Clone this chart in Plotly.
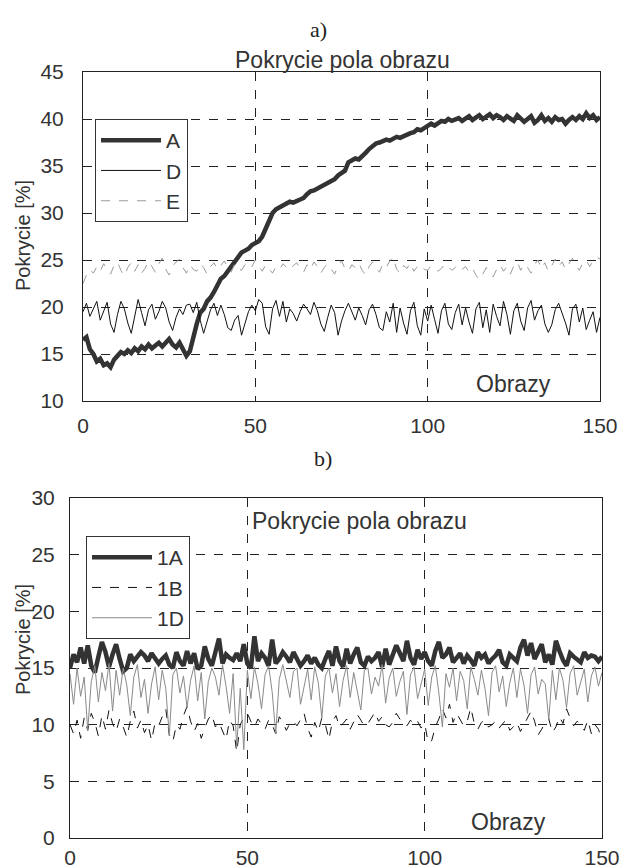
import plotly.graph_objects as go

# ---- data ----
x_frames = list(range(0, 151))

cov_A = [
    16.5, 16.8, 15.5, 15.0, 14.2, 14.5, 13.8, 14.0, 13.6, 14.4,
    14.8, 15.2, 15.0, 15.4, 15.1, 15.6, 15.3, 15.8, 15.5, 16.0,
    15.6, 15.9, 16.2, 15.8, 16.3, 16.6, 16.0, 15.7, 16.2, 15.4,
    14.8, 15.3, 17.0, 18.2, 19.4, 19.8, 20.6, 21.0, 21.6, 22.4,
    23.0, 23.3, 23.8, 24.5, 25.0, 25.3, 25.8, 26.0, 26.2, 26.6,
    26.8, 27.0, 27.5, 28.4, 29.2, 30.0, 30.4, 30.6, 30.9, 31.0,
    31.2, 31.1, 31.3, 31.4, 31.6, 32.0, 32.3, 32.4, 32.6, 32.9,
    33.1, 33.2, 33.5, 33.6, 34.0, 34.3, 34.5, 35.4, 35.6, 35.8,
    35.7, 36.0, 36.4, 36.8, 37.1, 37.4, 37.5, 37.6, 37.8, 37.7,
    37.9, 38.1, 38.0, 38.2, 38.3, 38.5, 38.6, 38.9, 38.8, 39.0,
    39.2, 39.5, 39.3, 39.5, 39.8, 39.7, 40.0, 39.8, 39.9, 40.1,
    39.8, 40.0, 40.3, 39.9, 40.1, 40.4, 40.0, 40.2, 40.5, 40.1,
    40.4, 40.2, 39.9, 40.3, 40.0, 39.8, 40.4, 40.1, 39.7, 40.0,
    40.3, 39.6, 39.9, 40.4, 39.8, 40.1, 39.7, 40.2, 39.9, 40.0,
    39.5, 39.9, 40.2, 39.9, 40.3, 40.0, 40.6, 40.1, 40.4, 39.9,
    40.2,
]

cov_D = [
    19.5, 20.4, 19.0, 19.8, 20.6, 18.6, 19.6, 20.5, 18.2, 17.3,
    19.2, 20.6, 19.8, 18.3, 17.2, 19.0, 20.8, 19.4, 18.0, 19.7,
    20.3, 18.7, 19.5, 20.6, 19.9, 18.4, 17.5, 18.9, 19.8, 19.2,
    20.2, 20.3, 19.4, 20.5, 18.6, 17.2, 18.6, 19.7, 20.4, 19.1,
    20.2, 19.2, 17.8, 17.5, 18.6, 19.1, 17.0, 18.4, 19.5, 20.2,
    19.6, 20.8, 20.4, 17.9, 17.1, 19.8, 20.7, 19.0, 20.6, 18.4,
    19.8, 19.3, 18.5, 19.5, 20.3, 19.8, 19.2, 20.5, 19.6, 18.2,
    17.4, 18.9, 20.2, 19.4, 17.0, 18.5, 19.6, 20.4, 19.4, 18.6,
    19.9, 19.1, 18.1, 19.7, 20.3, 19.2, 17.8, 17.5, 19.5, 18.4,
    20.4, 17.3, 19.9, 18.3, 17.1, 19.6, 20.5, 18.0, 17.0, 19.8,
    18.5, 20.2, 18.7, 17.2, 19.6, 20.4, 18.2, 17.6, 19.4, 20.3,
    18.1, 19.9, 18.4, 17.2, 19.8, 20.5, 17.8, 19.7, 17.3, 20.3,
    19.0, 18.0, 20.6, 19.2, 17.1, 19.6, 20.4, 18.5, 17.5, 19.9,
    20.7, 18.6, 19.6, 20.2, 18.2, 17.3, 18.1, 19.7, 20.4, 19.4,
    18.3, 17.0, 19.8, 20.3, 18.4, 19.9, 17.6, 18.6, 19.5, 17.3,
    18.9,
]

cov_E = [
    22.5, 23.4, 24.0, 23.6, 24.3, 23.8, 24.6, 24.1, 23.5, 24.4,
    24.8, 23.9, 23.3, 24.2, 24.7, 23.8, 24.5, 23.6, 24.1, 24.9,
    24.3, 23.7, 24.6, 25.2, 24.0, 23.4, 24.4, 24.8, 25.1, 24.2,
    23.6, 24.5, 24.0, 23.8, 24.6, 24.2, 23.5, 24.3, 24.7, 24.0,
    24.4, 24.9, 24.2, 23.7, 24.6, 24.1, 23.9, 24.5, 24.8, 24.3,
    25.0, 24.4, 23.8, 24.5, 24.1, 23.6, 24.3, 24.0, 24.6, 24.2,
    23.9, 24.4, 24.7, 24.1, 23.7, 24.5, 24.0, 24.8, 24.3, 23.6,
    24.2, 24.6, 24.0, 23.5, 24.4, 24.9, 24.1, 23.8, 24.5, 24.2,
    24.7, 23.9, 23.4, 24.3, 24.8, 24.1, 23.7, 24.6, 24.2, 24.9,
    25.3, 24.0, 23.6, 24.4, 24.1, 24.7, 23.8, 24.3, 24.5, 24.0,
    23.9, 24.4, 24.2, 23.8, 24.1, 24.6, 24.3, 23.9, 24.2, 24.5,
    24.0, 24.3, 23.7, 24.1, 23.4, 22.9, 23.5, 24.2, 23.6, 23.2,
    24.0, 24.5, 23.8, 24.3, 23.5, 24.4, 24.8, 23.9, 24.6, 24.2,
    23.6, 24.5, 25.0, 24.1, 24.7, 23.8, 24.4, 25.1, 24.3, 24.8,
    24.0, 24.6, 25.2, 24.4, 23.9, 24.7, 25.0, 24.3, 24.9, 25.3,
    25.1,
]

cov_1A = [
    15.0, 16.2, 15.5, 16.8, 15.4, 17.0, 15.2, 14.6, 16.0, 17.3,
    16.4, 15.1, 16.2, 17.1, 15.8, 14.7, 15.0, 16.2, 15.6, 16.0,
    16.4, 16.1, 15.6, 16.3, 15.9, 15.4, 15.8, 16.1, 15.3, 15.0,
    16.4, 15.6, 15.2, 16.5, 15.4, 16.3, 14.9, 15.2, 16.9, 15.8,
    15.2, 16.6, 17.6, 15.4, 16.2, 15.9, 15.7, 16.3, 15.6, 17.1,
    15.4, 15.0, 17.8, 15.6, 16.3, 15.9, 15.2, 17.5, 15.4, 15.8,
    16.4, 16.0, 15.5, 16.4, 15.8, 15.2, 15.6, 16.1, 15.4, 15.9,
    15.3, 15.0, 15.8, 16.5, 15.2, 16.9, 15.6, 15.1, 16.7, 15.4,
    16.2, 16.8, 15.5, 15.2, 16.0, 15.6, 15.9, 16.4, 15.1, 16.7,
    15.3, 16.2, 17.0, 16.3, 15.6, 17.4, 15.9, 15.3, 16.6, 15.8,
    16.4, 15.6, 15.2, 16.5, 17.3, 15.9, 16.2, 16.8, 15.5, 15.9,
    16.3, 15.4, 16.1, 15.7, 15.2, 16.4, 15.9, 16.2, 15.4, 15.8,
    16.1, 16.6, 15.5, 15.2, 16.2, 15.9, 15.6, 16.8, 17.5, 16.1,
    17.2, 15.8, 16.4, 17.1, 15.5, 16.2, 15.3, 17.4, 16.5, 15.7,
    15.2, 16.3, 16.0, 15.8, 15.5, 16.4, 15.9, 16.1, 16.0, 15.6,
    16.0,
]

cov_1B = [
    10.0, 9.2, 10.4, 8.8, 10.6, 9.5, 11.0, 10.2, 9.0, 10.8,
    9.6, 11.3, 10.1, 9.4, 10.5, 9.8, 8.9, 10.3, 11.2, 9.7,
    10.4, 9.3, 10.0, 8.6, 10.2, 9.9, 10.7, 11.4, 9.1, 8.5,
    10.0, 9.6, 10.8, 11.6, 10.3, 9.4, 10.1, 8.8, 9.7, 10.5,
    10.9, 9.8, 10.2, 9.5, 8.7, 10.4, 9.9, 7.6, 10.0, 10.6,
    11.0, 10.3, 9.8, 10.5, 10.1, 9.6, 10.4, 10.0, 9.2, 10.7,
    10.2, 9.5, 10.1, 10.3, 9.9, 10.4, 11.0, 9.7, 8.9, 10.2,
    9.4, 10.6, 10.0, 8.7, 10.3, 10.8, 9.8, 10.1, 10.5, 9.6,
    10.2, 10.9, 10.4, 9.9, 10.1, 10.6, 11.1, 10.3, 10.7, 10.0,
    9.8, 10.2, 11.0, 10.5, 10.1, 9.9, 10.4, 10.0, 10.3, 9.7,
    10.1, 8.4, 8.6, 9.8, 10.5, 11.4, 10.6, 11.8, 10.2, 11.0,
    10.4, 9.9, 10.3, 11.5, 10.1, 9.6, 10.2, 10.4, 9.8, 10.0,
    10.3, 9.7, 10.1, 10.4, 9.5, 9.8, 10.2, 9.4, 10.0, 10.6,
    11.2, 10.3, 9.1, 9.6, 10.2, 10.5, 9.3, 9.8, 10.7, 10.1,
    11.4, 10.6, 9.9, 10.3, 10.1, 9.5, 10.4, 9.2, 10.0, 9.6,
    8.6,
]

cov_1D = [
    14.5, 11.8, 15.0, 12.5, 14.2, 9.5, 13.8, 15.2, 12.0, 14.6,
    13.0, 15.4, 11.2, 14.8, 12.6, 15.0, 13.5, 10.8, 14.2, 15.3,
    12.4, 14.0, 11.0, 13.6, 15.1, 12.2, 14.8, 13.2, 9.0, 14.4,
    15.0, 12.8, 14.3, 11.5, 13.9, 15.2, 12.1, 14.6, 10.5, 13.8,
    15.0, 14.2, 12.6, 15.3, 13.4, 11.0, 14.5, 8.0, 13.2, 7.8,
    14.8, 12.3, 15.1, 13.6, 11.4, 14.4, 15.2, 12.9, 9.2, 14.0,
    15.3, 13.8, 12.4, 14.7, 15.0, 11.8, 13.5, 14.9, 12.2, 15.1,
    13.7, 10.6, 14.3, 15.0, 12.8, 14.5, 11.6, 13.9, 15.2, 12.4,
    14.6, 13.1, 11.3, 14.8, 15.0, 12.7, 14.2, 13.4, 15.3, 11.9,
    14.1, 15.0, 12.5, 13.8, 14.7, 10.9, 14.4, 15.1, 12.3, 13.6,
    14.9, 11.7, 14.2, 15.2, 12.8, 9.8, 14.5, 13.3, 15.0, 12.1,
    14.7, 13.9, 11.4, 15.1, 14.0, 12.6, 14.8, 13.2, 10.8, 14.6,
    15.2, 12.9, 14.3, 11.6, 13.7, 15.0, 12.4, 14.9, 13.5, 11.0,
    14.4, 15.1, 12.7, 14.0, 13.6, 10.4, 14.8, 12.2, 15.0, 13.9,
    11.5, 14.5, 15.2, 12.6, 13.8, 14.9, 12.0, 14.3, 15.1, 13.4,
    14.6,
]

x_ticks = [0, 50, 100, 150]
y_ticks_a = [10, 15, 20, 25, 30, 35, 40, 45]
y_ticks_b = [0, 5, 10, 15, 20, 25, 30]

FONT = "Liberation Sans, Arial, sans-serif"
SERIF = "Liberation Serif, Times New Roman, serif"
INK = "#333333"

# the page body has an 8px margin, so the figure is drawn 8px smaller
# and every target pixel position is offset by that margin
OFF = 8
W, H = 634 - OFF, 868 - OFF

fig = go.Figure()

# panel a)
fig.add_trace(go.Scatter(x=x_frames, y=cov_A, name="A", mode="lines",
                         line=dict(color=INK, width=4.5),
                         xaxis="x", yaxis="y", legend="legend"))
fig.add_trace(go.Scatter(x=x_frames, y=cov_D, name="D", mode="lines",
                         line=dict(color="#111111", width=1),
                         xaxis="x", yaxis="y", legend="legend"))
fig.add_trace(go.Scatter(x=x_frames, y=cov_E, name="E", mode="lines",
                         line=dict(color="#9a9a9a", width=1, dash="dash"),
                         xaxis="x", yaxis="y", legend="legend"))

# panel b)
fig.add_trace(go.Scatter(x=x_frames, y=cov_1A, name="1A", mode="lines",
                         line=dict(color=INK, width=4.5),
                         xaxis="x2", yaxis="y2", legend="legend2"))
fig.add_trace(go.Scatter(x=x_frames, y=cov_1B, name="1B", mode="lines",
                         line=dict(color="#111111", width=1, dash="dash"),
                         xaxis="x2", yaxis="y2", legend="legend2"))
fig.add_trace(go.Scatter(x=x_frames, y=cov_1D, name="1D", mode="lines",
                         line=dict(color="#8a8a8a", width=1),
                         xaxis="x2", yaxis="y2", legend="legend2"))

axis_common = dict(
    showline=True, mirror=True, linecolor="#222222", linewidth=1,
    showgrid=True, gridcolor="#222222", gridwidth=1, griddash="dash",
    zeroline=False, ticks="", automargin=False,
    tickfont=dict(family=FONT, size=21, color=INK),
)


# target pixel (in the screenshot) -> paper fraction
def px(v):
    return (v - OFF) / W


def py(v):
    return 1 - (v - OFF) / H


legend_common = dict(
    xanchor="left", yanchor="top",
    bgcolor="white", bordercolor=INK, borderwidth=1,
    font=dict(family=FONT, size=21, color=INK),
    tracegroupgap=0, itemwidth=60,
    entrywidth=89, entrywidthmode="pixels",
)

fig.update_layout(
    width=W, height=H,
    margin=dict(l=0, r=0, t=0, b=0),
    paper_bgcolor="white", plot_bgcolor="white",
    font=dict(family=FONT, color=INK),
    xaxis=dict(domain=[px(83), px(600)], range=[0, 150], tickvals=x_ticks,
               anchor="y", ticklabelstandoff=6, **axis_common),
    yaxis=dict(domain=[py(401), py(72)], range=[10, 45], tickvals=y_ticks_a,
               anchor="x", ticklabelstandoff=14, **axis_common),
    xaxis2=dict(domain=[px(70), px(602)], range=[0, 150], tickvals=x_ticks,
                anchor="y2", ticklabelstandoff=1, **axis_common),
    yaxis2=dict(domain=[py(838), py(498)], range=[0, 30], tickvals=y_ticks_b,
                anchor="x2", ticklabelstandoff=10, **axis_common),
    legend=dict(x=px(95), y=py(119), **legend_common),
    legend2=dict(x=px(86), y=py(536), **legend_common),
    showlegend=True,
)

annotations = [
    dict(text="a)", x=px(318), y=py(30), font=dict(family=SERIF, size=22, color="#222222")),
    dict(text="b)", x=px(323), y=py(458), font=dict(family=SERIF, size=22, color="#222222")),
    dict(text="Pokrycie pola obrazu", x=px(342), y=py(60), font=dict(family=FONT, size=23, color=INK)),
    dict(text="Pokrycie pola obrazu", x=px(250), y=py(521), xanchor="left", font=dict(family=FONT, size=23, color=INK)),
    dict(text="Obrazy", x=px(514), y=py(384), font=dict(family=FONT, size=23, color=INK)),
    dict(text="Obrazy", x=px(508), y=py(822), font=dict(family=FONT, size=23, color=INK)),
    dict(text="Pokrycie [%]", x=px(23), y=py(236), textangle=-90, font=dict(family=FONT, size=20, color=INK)),
    dict(text="Pokrycie [%]", x=px(23), y=py(640), textangle=-90, font=dict(family=FONT, size=20, color=INK)),
]
for a in annotations:
    a.update(xref="paper", yref="paper", showarrow=False)
    a.setdefault("xanchor", "center")
    a.setdefault("yanchor", "middle")
fig.update_layout(annotations=annotations)

fig.write_html("out.html")
